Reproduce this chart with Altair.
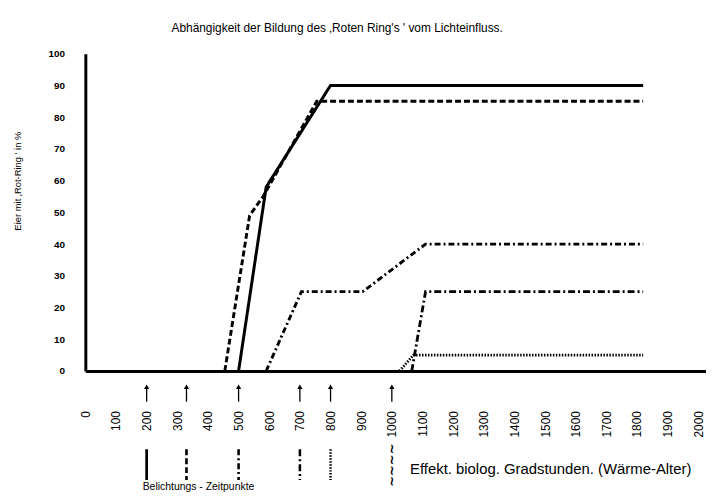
import altair as alt
import pandas as pd

# ---- data ----
TITLE = "Abhängigkeit der Bildung des ‚Roten Ring's ' vom Lichteinfluss."
Y_TITLE = "Eier mit ‚Rot-Ring ' in %"
X_TITLE = "Effekt. biolog. Gradstunden. (Wärme-Alter)"
LEGEND_TEXT = "Belichtungs - Zeitpunkte"

x_ticks = list(range(0, 2001, 100))
y_ticks = list(range(0, 101, 10))

series_names = ["solid", "dashed", "dashdot", "boldDashdot", "dotted"]
solid_x = [500, 590, 800, 1820]
solid_y = [0, 58, 90, 90]
dashed_x = [455, 536, 580, 755, 1820]
dashed_y = [0, 49, 55, 85, 85]
dashdot_x = [590, 705, 905, 1110, 1820]
dashdot_y = [0, 25, 25, 40, 40]
bold_x = [1065, 1110, 1820]
bold_y = [0, 25, 25]
dotted_x = [1025, 1070, 1820]
dotted_y = [0, 5, 5]

exposure_times = [200, 330, 500, 700, 800]
exposure_styles = ["e_solid", "e_dashed", "e_heavy", "e_dashdot", "e_dotted"]
wavy_time = [1000]

# ---- tables ----
rows = []
for name, xs, ys in zip(series_names,
                        [solid_x, dashed_x, dashdot_x, bold_x, dotted_x],
                        [solid_y, dashed_y, dashdot_y, bold_y, dotted_y]):
    for i, (a, b) in enumerate(zip(xs, ys)):
        rows.append({"series": name, "x": a, "y": b, "i": i})
curves = pd.DataFrame(rows)

arrows = pd.DataFrame({"x": exposure_times + wavy_time})
legend_marks = pd.DataFrame({"x": exposure_times, "style": exposure_styles})
wavy = pd.DataFrame({"x": wavy_time})
legend_label = pd.DataFrame({"x": [exposure_times[0]], "label": [LEGEND_TEXT]})

# ---- scales / axes ----
PLOT_W, PLOT_H = 626, 320
xscale = alt.Scale(domain=[0, 2025], nice=False, zero=False)
yscale = alt.Scale(domain=[0, 100], nice=False)

xaxis = alt.Axis(values=x_ticks, labelAngle=270, labelPadding=40, ticks=False,
                 grid=False, domain=True, domainWidth=3, domainColor="black",
                 labelFontSize=12, labelColor="black", labelOverlap=False,
                 labelFlush=False, format="d",
                 title=X_TITLE, titleFontSize=15, titleFontWeight="normal",
                 titleColor="black", titleX=327, titleY=98, titleAlign="left",
                 titleBaseline="middle", titleAnchor="start")
yaxis = alt.Axis(values=y_ticks, ticks=False, grid=False, domain=True,
                 domainWidth=3, domainColor="black", labelFontSize=10,
                 labelFontWeight="bold", labelColor="black", labelPadding=21,
                 title=Y_TITLE, titleFontSize=9.5, titleFontWeight="normal",
                 titleColor="black", titleAngle=270, titleX=-68, titleY=128,
                 titleAlign="center", titleBaseline="middle")

X = alt.X("x:Q", scale=xscale, axis=xaxis)

base = alt.Chart(curves)

lines = base.mark_line(color="black", strokeCap="butt", strokeJoin="miter").encode(
    x=X,
    y=alt.Y("y:Q", scale=yscale, axis=yaxis),
    detail="series:N",
    order="i:Q",
    strokeDash=alt.StrokeDash("series:N", legend=None, scale=alt.Scale(
        domain=series_names,
        range=[[1, 0], [6, 3], [6, 3, 2, 3], [7, 3, 2, 3], [1.5, 1.5]])),
    strokeWidth=alt.StrokeWidth("series:N", legend=None, scale=alt.Scale(
        domain=series_names, range=[3, 2.5, 2.5, 3, 1.3])),
)

arrow_shafts = alt.Chart(arrows).mark_rule(color="black", strokeWidth=1.3).encode(
    x=X, y=alt.value(336), y2=alt.value(351))
arrow_heads = alt.Chart(arrows).mark_point(shape="triangle-up", filled=True,
                                           color="black", size=28, opacity=1).encode(
    x=X, y=alt.value(336))

legend_rules = alt.Chart(legend_marks).mark_rule(color="black", strokeCap="butt").encode(
    x=X, y=alt.value(399), y2=alt.value(430),
    strokeDash=alt.StrokeDash("style:N", legend=None, scale=alt.Scale(
        domain=exposure_styles,
        range=[[1, 0], [4, 2], [6, 1.5], [6, 3, 1, 3], [1.5, 2]])),
    strokeWidth=alt.StrokeWidth("style:N", legend=None, scale=alt.Scale(
        domain=exposure_styles, range=[2, 3, 3, 3, 1.5])),
)

wavy_mark = alt.Chart(wavy).mark_text(text="~~~~", angle=90, fontSize=13,
                                      fontWeight="bold", font="DejaVu Sans",
                                      color="#000000", baseline="middle",
                                      align="center").encode(
    x=X, y=alt.value(415))

legend_text = alt.Chart(legend_label).mark_text(align="left", baseline="middle",
                                                fontSize=10.5, color="black",
                                                dx=-4).encode(
    x=X, y=alt.value(437), text="label:N")

chart = alt.layer(lines, arrow_shafts, arrow_heads, legend_rules, wavy_mark,
                  legend_text).properties(
    width=PLOT_W, height=PLOT_H,
    title=alt.TitleParams(TITLE, fontSize=12, fontWeight="normal", color="black",
                          anchor="middle", dx=-59, offset=14),
    autosize=alt.AutoSizeParams(type="none"),
    padding={"left": 78, "top": 44, "right": 0, "bottom": 126},
    background="white",
).configure(font="Liberation Sans").configure_view(stroke=None)

chart.save("out.html", embed_options={"renderer": "svg", "actions": False})
